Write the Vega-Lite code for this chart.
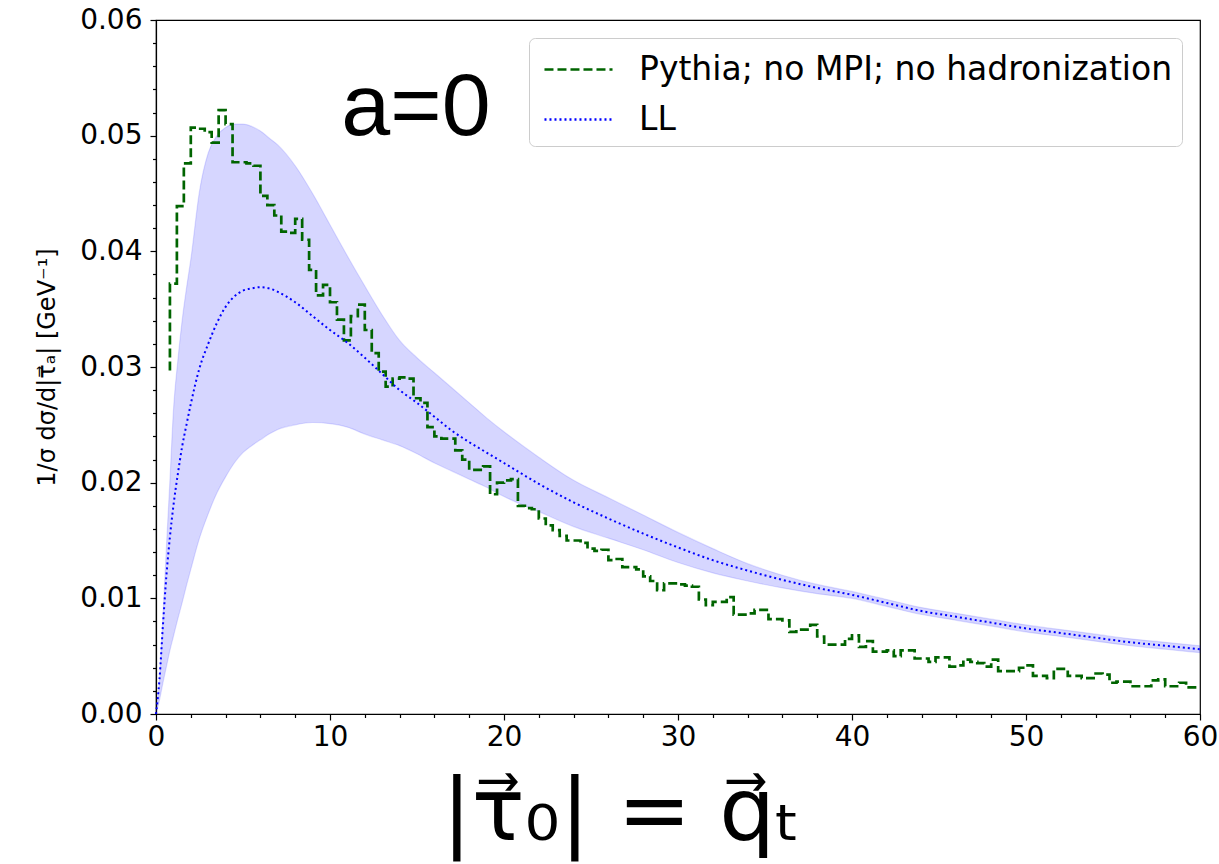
{
  "$schema": "https://vega.github.io/schema/vega-lite/v6.json",
  "width": 1044,
  "height": 694,
  "autosize": "none",
  "padding": {"left": 156, "top": 20, "right": 19, "bottom": 150},
  "background": "white",
  "datasets": {
    "ll": [
      {"x": 0, "ll": 0, "lo": 0, "hi": 0},
      {"x": 0.2, "ll": 0.0030, "lo": 0.0012, "hi": 0.0030},
      {"x": 0.4, "ll": 0.0077, "lo": 0.0027, "hi": 0.0085},
      {"x": 0.6, "ll": 0.0120, "lo": 0.0041, "hi": 0.0145},
      {"x": 0.8, "ll": 0.0153, "lo": 0.0055, "hi": 0.0202},
      {"x": 1.0, "ll": 0.0180, "lo": 0.0067, "hi": 0.0262},
      {"x": 1.25, "ll": 0.0207, "lo": 0.0082, "hi": 0.0305},
      {"x": 1.5, "ll": 0.0231, "lo": 0.0096, "hi": 0.0340},
      {"x": 1.75, "ll": 0.0250, "lo": 0.0111, "hi": 0.0368},
      {"x": 2.0, "ll": 0.0268, "lo": 0.0125, "hi": 0.0393},
      {"x": 2.5, "ll": 0.0299, "lo": 0.0152, "hi": 0.0452},
      {"x": 3.0, "ll": 0.0320, "lo": 0.0173, "hi": 0.0485},
      {"x": 3.5, "ll": 0.0338, "lo": 0.0191, "hi": 0.0500},
      {"x": 4.0, "ll": 0.0352, "lo": 0.0205, "hi": 0.0507},
      {"x": 4.5, "ll": 0.0361, "lo": 0.0217, "hi": 0.0510},
      {"x": 5.0, "ll": 0.0366, "lo": 0.0226, "hi": 0.0510},
      {"x": 5.5, "ll": 0.0368, "lo": 0.0232, "hi": 0.0508},
      {"x": 6.0, "ll": 0.0369, "lo": 0.0237, "hi": 0.0504},
      {"x": 6.5, "ll": 0.0368, "lo": 0.0242, "hi": 0.0498},
      {"x": 7.0, "ll": 0.0365, "lo": 0.0246, "hi": 0.0492},
      {"x": 8.0, "ll": 0.0356, "lo": 0.0250, "hi": 0.0474},
      {"x": 9.0, "ll": 0.0344, "lo": 0.0252, "hi": 0.0450},
      {"x": 10.0, "ll": 0.0332, "lo": 0.0251, "hi": 0.0423},
      {"x": 11.0, "ll": 0.0321, "lo": 0.0248, "hi": 0.0396},
      {"x": 12.0, "ll": 0.0308, "lo": 0.0242, "hi": 0.0370},
      {"x": 13.0, "ll": 0.0294, "lo": 0.0237, "hi": 0.0345},
      {"x": 14.0, "ll": 0.0280, "lo": 0.0232, "hi": 0.0323},
      {"x": 15.0, "ll": 0.0269, "lo": 0.0225, "hi": 0.0308},
      {"x": 16.0, "ll": 0.0257, "lo": 0.0217, "hi": 0.0295},
      {"x": 17.0, "ll": 0.0245, "lo": 0.0210, "hi": 0.0282},
      {"x": 18.0, "ll": 0.0235, "lo": 0.0203, "hi": 0.0269},
      {"x": 19.0, "ll": 0.0226, "lo": 0.0196, "hi": 0.0256},
      {"x": 20.0, "ll": 0.0217, "lo": 0.0188, "hi": 0.0244},
      {"x": 22.0, "ll": 0.0199, "lo": 0.0175, "hi": 0.0222},
      {"x": 24.0, "ll": 0.0183, "lo": 0.0162, "hi": 0.0202},
      {"x": 26.0, "ll": 0.0169, "lo": 0.0152, "hi": 0.0187},
      {"x": 28.0, "ll": 0.0156, "lo": 0.0142, "hi": 0.0172},
      {"x": 30.0, "ll": 0.0144, "lo": 0.0131, "hi": 0.0157},
      {"x": 32.0, "ll": 0.0133, "lo": 0.0122, "hi": 0.0143},
      {"x": 34.0, "ll": 0.0124, "lo": 0.0115, "hi": 0.0130},
      {"x": 36.0, "ll": 0.0116, "lo": 0.0109, "hi": 0.0120},
      {"x": 38.0, "ll": 0.0109, "lo": 0.0104, "hi": 0.0112},
      {"x": 40.0, "ll": 0.0103, "lo": 0.0100, "hi": 0.0106},
      {"x": 42.0, "ll": 0.0096, "lo": 0.0093, "hi": 0.0099},
      {"x": 44.0, "ll": 0.0089, "lo": 0.0086, "hi": 0.0092},
      {"x": 46.0, "ll": 0.0084, "lo": 0.0081, "hi": 0.0087},
      {"x": 48.0, "ll": 0.0079, "lo": 0.0076, "hi": 0.0082},
      {"x": 50.0, "ll": 0.0074, "lo": 0.0071, "hi": 0.0077},
      {"x": 52.0, "ll": 0.0070, "lo": 0.0067, "hi": 0.0073},
      {"x": 54.0, "ll": 0.0066, "lo": 0.0063, "hi": 0.0069},
      {"x": 56.0, "ll": 0.0062, "lo": 0.0059, "hi": 0.0065},
      {"x": 58.0, "ll": 0.0059, "lo": 0.0056, "hi": 0.0062},
      {"x": 60.0, "ll": 0.0056, "lo": 0.0053, "hi": 0.0059}
    ],
    "pythia": [
      {"x": 0.8, "y": 0.0297}, {"x": 1.2, "y": 0.0372}, {"x": 1.6, "y": 0.0439}, {"x": 2.0, "y": 0.0476},
      {"x": 2.4, "y": 0.0507}, {"x": 2.8, "y": 0.0506}, {"x": 3.2, "y": 0.0503}, {"x": 3.6, "y": 0.0494},
      {"x": 4.0, "y": 0.0522}, {"x": 4.4, "y": 0.0510}, {"x": 4.8, "y": 0.0477}, {"x": 5.2, "y": 0.0477},
      {"x": 5.6, "y": 0.0476}, {"x": 6.0, "y": 0.0474}, {"x": 6.4, "y": 0.0448}, {"x": 6.8, "y": 0.0440},
      {"x": 7.2, "y": 0.0431}, {"x": 7.6, "y": 0.0417}, {"x": 8.0, "y": 0.0416}, {"x": 8.4, "y": 0.0428},
      {"x": 8.8, "y": 0.0410}, {"x": 9.2, "y": 0.0384}, {"x": 9.6, "y": 0.0362}, {"x": 10.0, "y": 0.0371},
      {"x": 10.4, "y": 0.0356}, {"x": 10.8, "y": 0.0341}, {"x": 11.2, "y": 0.0323}, {"x": 11.6, "y": 0.0344},
      {"x": 12.0, "y": 0.0354}, {"x": 12.4, "y": 0.0332}, {"x": 12.8, "y": 0.0312}, {"x": 13.2, "y": 0.0296},
      {"x": 13.6, "y": 0.0283}, {"x": 14.0, "y": 0.0290}, {"x": 14.4, "y": 0.0291}, {"x": 14.8, "y": 0.0290},
      {"x": 15.2, "y": 0.0273}, {"x": 15.6, "y": 0.0269}, {"x": 16.0, "y": 0.0248}, {"x": 16.4, "y": 0.0240},
      {"x": 16.8, "y": 0.0238}, {"x": 17.2, "y": 0.0238}, {"x": 17.6, "y": 0.0228}, {"x": 18.0, "y": 0.0220},
      {"x": 18.4, "y": 0.0211}, {"x": 18.8, "y": 0.0211}, {"x": 19.2, "y": 0.0214}, {"x": 19.6, "y": 0.0190},
      {"x": 20.0, "y": 0.0200}, {"x": 20.4, "y": 0.0202}, {"x": 20.8, "y": 0.0203}, {"x": 21.2, "y": 0.0180},
      {"x": 21.6, "y": 0.0178}, {"x": 22.0, "y": 0.0177}, {"x": 22.4, "y": 0.0169}, {"x": 22.8, "y": 0.0163},
      {"x": 23.2, "y": 0.0159}, {"x": 23.6, "y": 0.0154}, {"x": 24.0, "y": 0.0150}, {"x": 24.4, "y": 0.0150},
      {"x": 24.8, "y": 0.0148}, {"x": 25.2, "y": 0.0143}, {"x": 25.6, "y": 0.0141}, {"x": 26.0, "y": 0.0142},
      {"x": 26.4, "y": 0.0133}, {"x": 26.8, "y": 0.0134}, {"x": 27.2, "y": 0.0127}, {"x": 27.6, "y": 0.0127},
      {"x": 28.0, "y": 0.0125}, {"x": 28.4, "y": 0.0119}, {"x": 28.8, "y": 0.0115}, {"x": 29.2, "y": 0.0107},
      {"x": 29.6, "y": 0.0113}, {"x": 30.0, "y": 0.0113}, {"x": 30.4, "y": 0.0112}, {"x": 30.8, "y": 0.0111},
      {"x": 31.2, "y": 0.0110}, {"x": 31.6, "y": 0.0099}, {"x": 32.0, "y": 0.0094}, {"x": 32.4, "y": 0.0097},
      {"x": 32.8, "y": 0.0097}, {"x": 33.2, "y": 0.0101}, {"x": 33.6, "y": 0.0086}, {"x": 34.0, "y": 0.0086},
      {"x": 34.4, "y": 0.0087}, {"x": 34.8, "y": 0.0090}, {"x": 35.2, "y": 0.0090}, {"x": 35.6, "y": 0.0082},
      {"x": 36.0, "y": 0.0082}, {"x": 36.4, "y": 0.0081}, {"x": 36.8, "y": 0.0071}, {"x": 37.2, "y": 0.0073},
      {"x": 37.6, "y": 0.0073}, {"x": 38.0, "y": 0.0077}, {"x": 38.4, "y": 0.0067}, {"x": 38.8, "y": 0.0060},
      {"x": 39.2, "y": 0.0060}, {"x": 39.6, "y": 0.0060}, {"x": 40.0, "y": 0.0065}, {"x": 40.4, "y": 0.0068},
      {"x": 40.8, "y": 0.0058}, {"x": 41.2, "y": 0.0063}, {"x": 41.6, "y": 0.0054}, {"x": 42.0, "y": 0.0054},
      {"x": 42.4, "y": 0.0055}, {"x": 42.8, "y": 0.0050}, {"x": 43.2, "y": 0.0055}, {"x": 43.6, "y": 0.0055},
      {"x": 44.0, "y": 0.0048}, {"x": 44.4, "y": 0.0048}, {"x": 44.8, "y": 0.0045}, {"x": 45.2, "y": 0.0049},
      {"x": 45.6, "y": 0.0049}, {"x": 46.0, "y": 0.0041}, {"x": 46.4, "y": 0.0042}, {"x": 46.8, "y": 0.0047},
      {"x": 47.2, "y": 0.0045}, {"x": 47.6, "y": 0.0044}, {"x": 48.0, "y": 0.0041}, {"x": 48.4, "y": 0.0047},
      {"x": 48.8, "y": 0.0037}, {"x": 49.2, "y": 0.0037}, {"x": 49.6, "y": 0.0037}, {"x": 50.0, "y": 0.0040},
      {"x": 50.4, "y": 0.0042}, {"x": 50.8, "y": 0.0033}, {"x": 51.2, "y": 0.0033}, {"x": 51.6, "y": 0.0031},
      {"x": 52.0, "y": 0.0039}, {"x": 52.4, "y": 0.0039}, {"x": 52.8, "y": 0.0033}, {"x": 53.2, "y": 0.0033},
      {"x": 53.6, "y": 0.0031}, {"x": 54.0, "y": 0.0031}, {"x": 54.4, "y": 0.0035}, {"x": 54.8, "y": 0.0034},
      {"x": 55.2, "y": 0.0027}, {"x": 55.6, "y": 0.0028}, {"x": 56.0, "y": 0.0028}, {"x": 56.4, "y": 0.0024},
      {"x": 56.8, "y": 0.0024}, {"x": 57.2, "y": 0.0024}, {"x": 57.6, "y": 0.0029}, {"x": 58.0, "y": 0.0030},
      {"x": 58.4, "y": 0.0024}, {"x": 58.8, "y": 0.0024}, {"x": 59.2, "y": 0.0027}, {"x": 59.6, "y": 0.0023},
      {"x": 60.0, "y": 0.0023}
    ],
    "label": [
      {"label": "a=0", "x": 14.94, "y": 0.0501}
    ]
  },
  "resolve": {"axis": {"x": "independent", "y": "independent"}},
  "layer": [
    {
      "data": {"name": "ll"},
      "mark": {"type": "area", "interpolate": "monotone", "fill": "#0000ff", "fillOpacity": 0.16, "stroke": "#0000ff", "strokeOpacity": 0.12, "strokeWidth": 1.2},
      "encoding": {
        "x": {"field": "x", "type": "quantitative", "scale": {"domain": [0, 60], "nice": false, "zero": false},
          "axis": {
            "orient": "bottom",
            "values": [0, 10, 20, 30, 40, 50, 60],
            "format": "d",
            "tickSize": 6,
            "labelPadding": 3,
            "labelFlush": false,
            "labelOverlap": false,
            "title": "|τ⃗₀| = q⃗ₜ",
            "titleFont": "DejaVu Sans",
            "titleFontSize": 88,
            "titleFontWeight": "normal",
            "titleAlign": "center",
            "titleX": 465,
            "titlePadding": 18
          }
        },
        "y": {"field": "lo", "type": "quantitative", "scale": {"domain": [0, 0.06], "nice": false, "zero": false},
          "axis": {
            "orient": "left",
            "values": [0, 0.01, 0.02, 0.03, 0.04, 0.05, 0.06],
            "format": ".2f",
            "tickSize": 6,
            "labelPadding": 8,
            "labelFlush": false,
            "labelOverlap": false,
            "title": "1/σ dσ/d|τ⃗ₐ|  [GeV⁻¹]",
            "titleFont": "DejaVu Sans",
            "titleFontSize": 24,
            "titleFontWeight": "normal",
            "titlePadding": 20
          }
        },
        "y2": {"field": "hi"}
      }
    },
    {
      "data": {"name": "pythia"},
      "mark": {"type": "line", "interpolate": "step-before", "strokeWidth": 2.7},
      "encoding": {
        "x": {"field": "x", "type": "quantitative",
          "axis": {"orient": "bottom", "values": [2,4,6,8,12,14,16,18,22,24,26,28,32,34,36,38,42,44,46,48,52,54,56,58], "labels": false, "domain": false, "tickSize": 3.5, "title": null}
        },
        "y": {"field": "y", "type": "quantitative",
          "axis": {"orient": "left", "values": [0.002,0.004,0.006,0.008,0.012,0.014,0.016,0.018,0.022,0.024,0.026,0.028,0.032,0.034,0.036,0.038,0.042,0.044,0.046,0.048,0.052,0.054,0.056,0.058], "labels": false, "domain": false, "tickSize": 3.5, "title": null}
        },
        "color": {"datum": "Pythia; no MPI; no hadronization",
          "scale": {"domain": ["Pythia; no MPI; no hadronization", "LL"], "range": ["#006400", "#0000ff"]},
          "legend": {"title": null, "orient": "top-right", "offset": 18, "symbolType": "M-1.62,0H1.62", "symbolSize": 1764, "symbolOffset": 18, "symbolStrokeWidth": 2.5, "labelFont": "DejaVu Sans", "labelFontSize": 33, "labelColor": "black", "labelOffset": 38, "rowPadding": 10, "padding": 9, "strokeColor": "#cccccc", "cornerRadius": 6, "fillColor": "white", "labelLimit": 0}
        },
        "strokeDash": {"datum": "Pythia; no MPI; no hadronization",
          "scale": {"domain": ["Pythia; no MPI; no hadronization", "LL"], "range": [[9, 4], [2, 3]]},
          "legend": {"title": null, "orient": "top-right", "offset": 18, "symbolType": "M-1.62,0H1.62", "symbolSize": 1764, "symbolOffset": 18, "symbolStrokeWidth": 2.5, "labelFont": "DejaVu Sans", "labelFontSize": 33, "labelColor": "black", "labelOffset": 38, "rowPadding": 10, "padding": 9, "strokeColor": "#cccccc", "cornerRadius": 6, "fillColor": "white", "labelLimit": 0}
        }
      }
    },
    {
      "data": {"name": "ll"},
      "mark": {"type": "line", "interpolate": "monotone", "strokeWidth": 2},
      "encoding": {
        "x": {"field": "x", "type": "quantitative", "axis": null},
        "y": {"field": "ll", "type": "quantitative", "axis": null},
        "color": {"datum": "LL"},
        "strokeDash": {"datum": "LL"}
      }
    },
    {
      "data": {"name": "label"},
      "mark": {"type": "text", "font": "Liberation Sans", "fontSize": 88, "align": "center", "baseline": "alphabetic", "color": "black"},
      "encoding": {
        "x": {"field": "x", "type": "quantitative", "axis": null},
        "y": {"field": "y", "type": "quantitative", "axis": null},
        "text": {"field": "label"}
      }
    }
  ],
  "config": {
    "view": {"stroke": "black", "strokeWidth": 1.2},
    "axis": {
      "grid": false,
      "domainColor": "black",
      "domainWidth": 1.2,
      "tickColor": "black",
      "tickWidth": 1.2,
      "labelColor": "black",
      "titleColor": "black",
      "labelFont": "DejaVu Sans",
      "labelFontSize": 28
    }
  }
}
